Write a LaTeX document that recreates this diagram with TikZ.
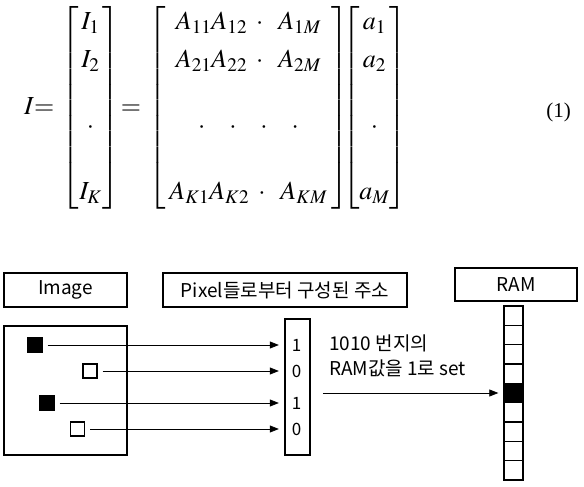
\documentclass[tikz,border=0pt]{standalone}
\usepackage{mathptmx}
\usepackage[no-math]{fontspec}
\setmainfont{Liberation Serif}
\newfontfamily\kor{Noto Sans CJK KR}
\newcommand{\eqfont}{\fontsize{26}{34}\selectfont}
\usetikzlibrary{arrows.meta}
\usetikzlibrary{positioning}

\begin{document}
\begin{tikzpicture}[x=1pt, y=-1pt]
    % Define styles
    \tikzstyle{eqn} = [inner sep=0pt, font=\eqfont]
    \tikzstyle{title} = [rectangle, draw, line width=1.6pt, inner sep=0pt, minimum height=34pt, font=\kor\fontsize{19}{21}\selectfont]
    \tikzstyle{frame} = [rectangle, draw, line width=1.6pt, inner sep=0pt]
    \tikzstyle{pixOn} = [rectangle, draw, line width=1.3pt, fill=black, minimum size=14pt, inner sep=0pt]
    \tikzstyle{pixOff} = [rectangle, draw, line width=1.3pt, fill=white, minimum size=14pt, inner sep=0pt]
    \tikzstyle{bit} = [minimum width=25pt, inner sep=0pt, font=\kor\fontsize{17}{19}\selectfont]
    \tikzstyle{cell} = [rectangle, draw, line width=1.3pt, minimum width=19pt, minimum height=19.33pt, inner sep=0pt]
    \tikzstyle{relation} = [-{Triangle[length=9pt, width=7pt]}, line width=0.7pt, shorten <=5pt, shorten >=5pt]

    \useasboundingbox (0,0) rectangle (584,487);

    % Equation
    \node[eqn, anchor=base west] (eqLeft) at (24,114) {$I{=}$};
    \node[eqn] (vecI) at (90.5,108) {\arraycolsep=0.5pt$\left[\begin{array}{c} I_1\\[4pt] I_2\\[32pt] \cdot\\[32pt] I_K \end{array}\right]$};
    \node[eqn, anchor=base] (eqMid) at (131,114) {$=$};
    \node[eqn] (matA) at (248.5,108) {\arraycolsep=4pt$\left[\begin{array}{c} A_{11}A_{12}\hspace{9pt}{\cdot}\hspace{15pt}A_{1M}\\[4pt] A_{21}A_{22}\hspace{9pt}{\cdot}\hspace{15pt}A_{2M}\\[32pt] {\cdot}\hspace{24pt}{\cdot}\hspace{24pt}{\cdot}\hspace{24pt}{\cdot}\\[32pt] A_{K1}A_{K2}\hspace{9pt}{\cdot}\hspace{15pt}A_{KM} \end{array}\right]$};
    \node[eqn] (vecA) at (374.5,108) {\arraycolsep=0pt$\left[\begin{array}{c} a_1\\[4pt] a_2\\[32pt] \cdot\\[32pt] a_M \end{array}\right]$};
    \node[anchor=base, inner sep=0pt, font=\fontsize{21}{24}\selectfont] (eqNum) at (558.5,117.5) {(1)};

    % Titles
    \node[title, minimum width=123pt] (imageLabel) at (65.5,290) {Image};
    \node[title, minimum width=244pt] (pixelLabel) at (285,290) {Pixel들로부터 구성된 주소};
    \node[title, minimum width=122pt, minimum height=33pt] (ramLabel) at (516,284.5) {RAM};

    % Image and address
    \node[frame, minimum width=123pt, minimum height=129pt] (imageBox) at (65.5,390.5) {};
    \node[frame, minimum width=25pt, minimum height=136pt] (addrBox) at (297.5,387) {};

    \node[pixOn] (pix1) at (35,345) {};
    \node[pixOff] (pix2) at (90,371) {};
    \node[pixOn] (pix3) at (47,403) {};
    \node[pixOff] (pix4) at (77.5,429) {};

    \node[bit] (bit1) at (296.5,345) {1};
    \node[bit] (bit2) at (296.5,371) {0};
    \node[bit] (bit3) at (296.5,403) {1};
    \node[bit] (bit4) at (296.5,429) {0};

    % RAM
    \foreach \i/\shade in {1/white,2/white,3/white,4/white,5/black,6/white,7/white,8/white,9/white}
        \node[cell, fill=\shade] (cell\i) at (513.5,{306+(\i-0.5)*19.33}) {};

    \node[anchor=west, align=left, inner sep=0pt, font=\kor\fontsize{19}{25}\selectfont] (note) at (329,355.5) {1010 번지의\\RAM값을 1로 set};

    % Relations
    \foreach \i in {1,...,4}
        \draw[relation] (pix\i) -- (bit\i.west);
    \draw[relation, shorten <=12pt] (addrBox.east |- cell5) -- (cell5);

\end{tikzpicture}
\end{document}
